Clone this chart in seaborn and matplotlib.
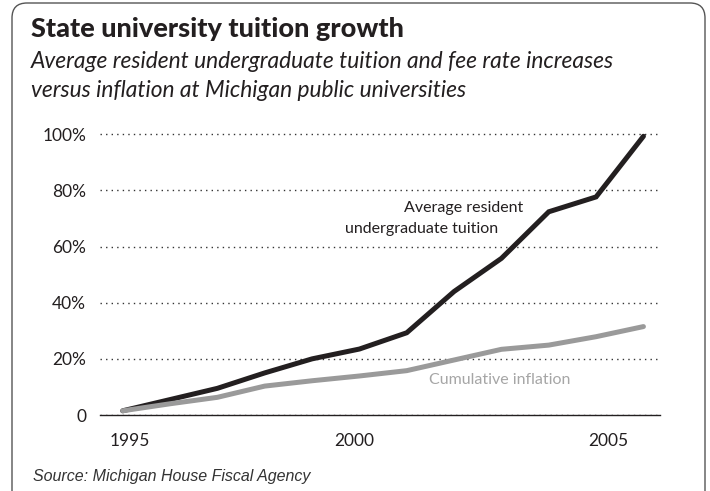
import matplotlib
matplotlib.use("Agg")
import matplotlib.pyplot as plt
from matplotlib.patches import FancyBboxPatch
import pandas as pd
import seaborn as sns

# values (cumulative % increase since 1995)
years = list(range(1995, 2007))
tuition = [1.5, 5.5, 9.5, 15.0, 20.0, 23.5, 29.3, 44.0, 55.8, 72.4, 77.7, 99.3]
inflation = [1.5, 4.0, 6.3, 10.3, 12.2, 13.9, 15.8, 19.6, 23.4, 24.9, 27.9, 31.5]
y_ticks = [0, 20, 40, 60, 80, 100]
y_labels = ["0", "20%", "40%", "60%", "80%", "100%"]
x_labels = ["1995", "2000", "2005"]

df = pd.DataFrame({
    "year": years + years,
    "pct": tuition + inflation,
    "series": ["tuition"] * len(years) + ["inflation"] * len(years),
})

sns.set_theme(style="white")
plt.rcParams['font.family'] = ['Lato', 'DejaVu Sans']

fig = plt.figure(figsize=(7.1, 4.91), dpi=100)
ax = fig.add_axes([100 / 710, 1 - 415 / 491, 560 / 710, (415 - 128.7) / 491])

sns.lineplot(data=df, x="year", y="pct", hue="series",
             hue_order=["tuition", "inflation"],
             palette={"tuition": "#231f20", "inflation": "#9a9a9a"},
             linewidth=3.6, legend=False, ax=ax,
             solid_capstyle="round", solid_joinstyle="miter")

ax.set_xlim(1994.52, 2006.35)
ax.set_ylim(0, 102)
ax.set_xlabel("")
ax.set_ylabel("")

# labels and the two inner tick marks sit a little off the data years in the original
ax.set_xticks([1995.15, 1999.9, 2005.25], x_labels)
ax.set_xticks([1999.9, 2005.25], minor=True)
ax.tick_params(axis="x", which="major", length=0, pad=13, labelsize=12.5, labelcolor="#231f20")
ax.tick_params(axis="x", which="minor", direction="in", length=21.6, width=0.8,
               color="#231f20", bottom=True)

ax.set_yticks(y_ticks, y_labels)
ax.tick_params(axis="y", length=0, pad=10, labelsize=12.5, labelcolor="#231f20")

ax.yaxis.grid(True, linestyle=(0, (1, 3)), color="#333333", linewidth=1.0)
ax.xaxis.grid(False)
for side in ["left", "top", "right"]:
    ax.spines[side].set_visible(False)
ax.spines["bottom"].set_color("#231f20")
ax.spines["bottom"].set_linewidth(1.0)

ax.text(2000.94, 73.7, "Average resident", ha="left", va="center",
        fontsize=11.5, color="#231f20")
ax.text(1999.70, 66.3, "undergraduate tuition", ha="left", va="center",
        fontsize=11.5, color="#231f20")
ax.text(2001.48, 12.5, "Cumulative inflation", ha="left", va="center",
        fontsize=11.5, color="#a6a6a6")

fig.text(31 / 710, 1 - 37 / 491, "State university tuition growth",
         fontsize=19.5, fontweight=900, color="#231f20", va="baseline")
fig.text(31 / 710, 1 - 68 / 491,
         "Average resident undergraduate tuition and fee rate increases",
         fontsize=16.4, style="italic", color="#231f20", va="baseline")
fig.text(31 / 710, 1 - 97 / 491,
         "versus inflation at Michigan public universities",
         fontsize=16.4, style="italic", color="#231f20", va="baseline")
fig.text(33 / 710, 1 - 477 / 491, "Source: Michigan House Fiscal Agency",
         fontsize=11.5, style="italic", color="#333333", va="center",
         family=["Liberation Sans", "DejaVu Sans"])

frame = FancyBboxPatch((0.12, -0.3), 6.93, 5.18,
                       boxstyle="round,pad=0,rounding_size=0.15",
                       transform=fig.dpi_scale_trans, facecolor="none",
                       edgecolor="#555555", linewidth=1.0)
fig.add_artist(frame)

fig.savefig("out.png", dpi=100)
